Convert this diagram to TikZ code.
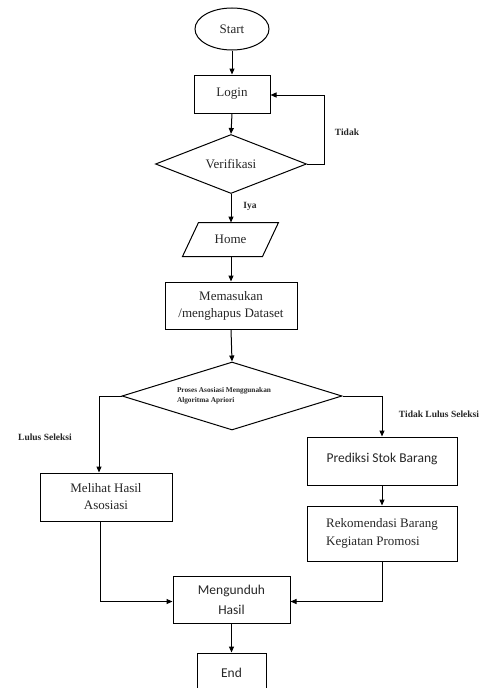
\documentclass[tikz,border=0pt]{standalone}
\usepackage{fontspec}
\setmainfont{Liberation Serif}
\newfontfamily\calib{Carlito}
\usetikzlibrary{shapes.geometric,arrows.meta}
\begin{document}
\begin{tikzpicture}[x=1pt,y=-1pt,
  line width=1pt,
  every node/.style={text=black!85},
  box/.style={draw, rectangle, inner sep=0pt, align=center, font=\fontsize{13}{17}\selectfont},
  sbox/.style={box, font=\calib\fontsize{13.5}{20}\selectfont},
  dia/.style={draw, diamond, inner sep=0pt, align=center},
  lbl/.style={font=\bfseries\fontsize{9.5}{11}\selectfont, inner sep=0pt},
  arr/.style={-{Triangle[length=6pt,width=5pt]}}
]
\useasboundingbox (0,0) rectangle (493,688);

\node[draw, ellipse, inner sep=0pt, minimum width=74pt, minimum height=42pt, font=\fontsize{13}{16}\selectfont] (start) at (232,29) {Start};
\node[box, minimum width=76pt, minimum height=38pt] (login) at (232,94) {Login};
\node[dia, aspect=2.56, minimum width=151pt, minimum height=59pt, font=\fontsize{13}{16}\selectfont] (verif) at (231,164) {Verifikasi};
\node[rectangle, inner sep=0pt, minimum width=79pt, minimum height=33pt, font=\fontsize{13}{16}\selectfont] (home) at (230.5,239.5) {Home};
\draw ([xshift=8pt]home.north west) -- ([xshift=8pt]home.north east) -- ([xshift=-8pt]home.south east) -- ([xshift=-8pt]home.south west) -- cycle;
\node[box, minimum width=132pt, minimum height=47pt] (data) at (231,305.5) {Memasukan\\/menghapus Dataset};
\node[dia, aspect=3.2, minimum width=220pt, minimum height=68pt, font=\bfseries\fontsize{7.3}{9.5}\selectfont, align=left] (proses) at (232,396) {\hspace*{-10pt}\raisebox{-2pt}{\parbox{100pt}{Proses Asosiasi Menggunakan\\Algoritma Apriori}}};
\node[box, minimum width=132pt, minimum height=48pt] (melihat) at (106,497) {Melihat Hasil\\Asosiasi};
\node[sbox, minimum width=150pt, minimum height=48pt] (prediksi) at (382,461) {\raisebox{6pt}{Prediksi Stok Barang}};
\node[box, minimum width=150pt, minimum height=55pt, align=left, font=\fontsize{13}{18}\selectfont] (rekom) at (382,533.5) {Rekomendasi Barang\\Kegiatan Promosi};
\node[sbox, minimum width=117pt, minimum height=47pt] (unduh) at (231.5,599.5) {\raisebox{-3pt}{Mengunduh}\\\raisebox{-3pt}{Hasil}};
\node[sbox, minimum width=69pt, minimum height=42pt] (end) at (231.5,674) {\raisebox{3pt}{End}};

\node[lbl] (tidak) at (347,132) {Tidak};
\node[lbl] (iya) at (250,206) {Iya};
\node[lbl] (lulus) at (45,437) {Lulus Seleksi};
\node[lbl] (tidaklulus) at (439,414) {Tidak Lulus Seleksi};

\draw[arr] (start.south) -- (login.north);
\draw[arr] (login.south) -- (verif.north);
\draw[arr] (verif.east) -- ++(17,0) |- ([yshift=-1pt]login.east);
\draw[arr] (verif.south) -- (verif.south |- home.north);
\draw[arr] (home.south -| data.north) -- (data.north);
\draw[arr] (data.south) -- (proses.north);
\draw[arr] (proses.west) -| ([xshift=-7pt]melihat.north);
\draw[arr] (proses.east) -| (prediksi.north);
\draw[arr] (prediksi.south) -- (rekom.north);
\draw[arr] ([xshift=-6pt]melihat.south) |- ([yshift=-2pt]unduh.west);
\draw[arr] (rekom.south) |- ([yshift=-2pt]unduh.east);
\draw[arr] (unduh.south) -- (end.north);
\end{tikzpicture}
\end{document}
